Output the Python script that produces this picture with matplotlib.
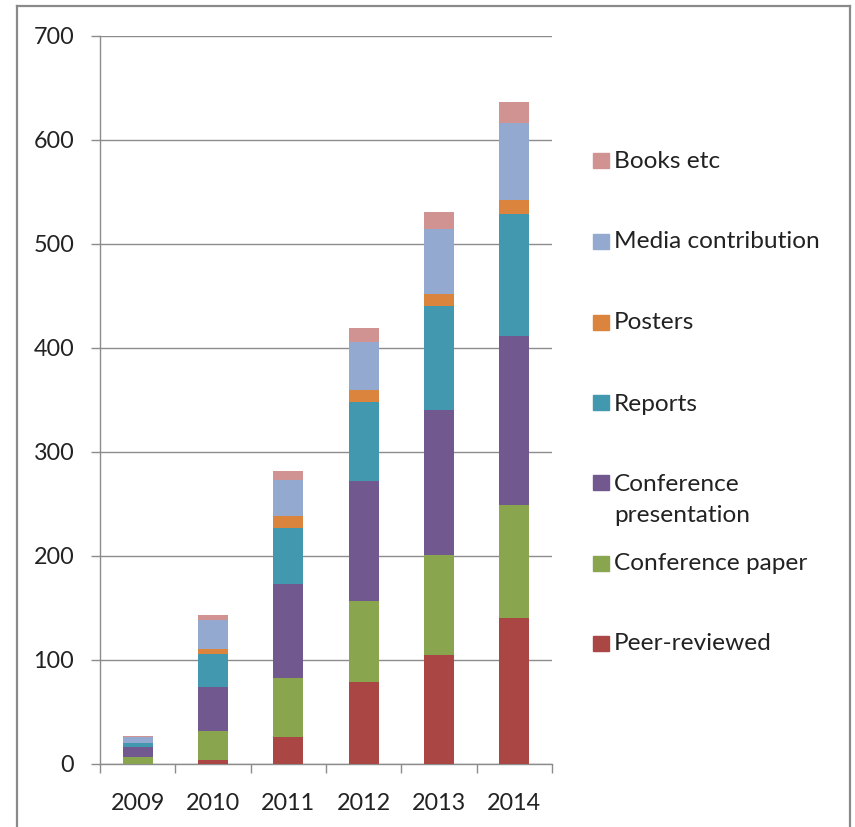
import matplotlib
matplotlib.use("Agg")
import matplotlib.pyplot as plt
from matplotlib.patches import Rectangle
from matplotlib.lines import Line2D
import numpy as np

plt.rcParams['font.family'] = ['Lato', 'DejaVu Sans']

years = ['2009', '2010', '2011', '2012', '2013', '2014']
peer_reviewed = [0, 4, 26, 79, 105, 140]
conference_paper = [7, 28, 57, 78, 96, 109]
conference_presentation = [9, 42, 90, 115, 139, 163]
reports = [4, 32, 54, 76, 100, 117]
posters = [0, 5, 11, 12, 12, 13]
media_contribution = [6, 27, 35, 46, 62, 74]
books_etc = [1, 5, 9, 13, 17, 21]

series_labels = ['Peer-reviewed', 'Conference paper', 'Conference\npresentation',
                 'Reports', 'Posters', 'Media contribution', 'Books etc']
series_values = [peer_reviewed, conference_paper, conference_presentation,
                 reports, posters, media_contribution, books_etc]
colors = ['#AA4643', '#89A54E', '#71588F', '#4198AF', '#DB843D', '#93A9CF', '#D19392']

W, H = 855, 827
fig = plt.figure(figsize=(W / 100, H / 100), dpi=100)
fx = lambda px: px / W
fy = lambda py: 1 - py / H

ax = fig.add_axes([fx(100), fy(764), (552 - 100) / W, (764 - 36) / H])
x = np.arange(len(years))
bottom = np.zeros(len(years))
for vals, col in zip(series_values, colors):
    ax.bar(x, vals, width=0.4, bottom=bottom, color=col, zorder=3)
    bottom += np.array(vals)

ax.set_xlim(-0.5, len(years) - 0.5)
ax.set_ylim(0, 700)
ax.set_yticks(range(0, 701, 100))
ax.set_xticks(x)
ax.set_xticklabels(years)
ax.set_xticks(np.arange(-0.5, len(years)), minor=True)

grid_col = '#8c8c8c'
ax.yaxis.grid(True, color=grid_col, linewidth=1.0, zorder=0)
for s in ['top', 'right']:
    ax.spines[s].set_visible(False)
for s in ['left', 'bottom']:
    ax.spines[s].set_color(grid_col)
    ax.spines[s].set_linewidth(1.0)

ax.tick_params(axis='y', direction='out', length=6.5, width=1.0, color=grid_col,
               pad=12, labelsize=16.8, labelcolor='#222222')
ax.tick_params(axis='x', which='major', length=0, pad=21, labelsize=16.8,
               labelcolor='#222222')
ax.tick_params(axis='x', which='minor', direction='out', length=6.5, width=1.0,
               color=grid_col)

# legend drawn as swatches + text, in the order of the reference (top to bottom)
legend_centers = {'Books etc': 160, 'Media contribution': 241, 'Posters': 322,
                  'Reports': 403, 'Conference\npresentation': 483,
                  'Conference paper': 563, 'Peer-reviewed': 643}
leg_fs = 17.6
for lab, col in zip(series_labels, colors):
    cy = legend_centers[lab]
    fig.add_artist(Rectangle((fx(593), fy(cy + 7.5)), 16 / W, 15 / H,
                             color=col, transform=fig.transFigure))
    if '\n' in lab:
        fig.text(fx(614), fy(cy - 9), lab, ha='left', va='top', fontsize=leg_fs,
                 color='#222222', linespacing=1.6)
    else:
        fig.text(fx(614), fy(cy + 1), lab, ha='left', va='center', fontsize=leg_fs,
                 color='#222222')

# outer chart border
border_col = '#8a8a8a'
fig.add_artist(Line2D([fx(17), fx(17)], [fy(6), fy(H + 5)], color=border_col,
                      linewidth=1.6, transform=fig.transFigure))
fig.add_artist(Line2D([fx(17), fx(850)], [fy(6), fy(6)], color=border_col,
                      linewidth=1.6, transform=fig.transFigure))
fig.add_artist(Line2D([fx(850), fx(850)], [fy(6), fy(H + 5)], color=border_col,
                      linewidth=1.6, transform=fig.transFigure))

fig.savefig('out.png', dpi=100)
